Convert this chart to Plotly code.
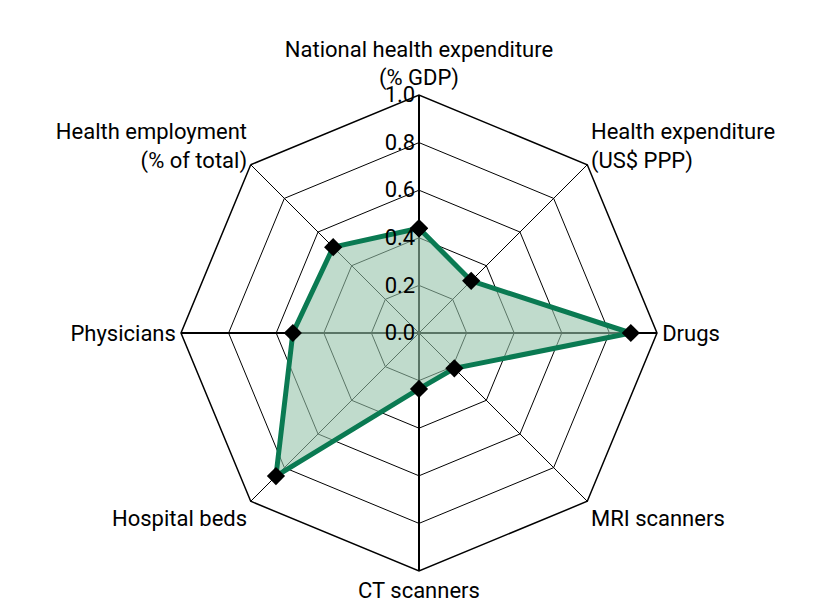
import plotly.graph_objects as go

# Categories clockwise from the top
categories = [
    "National health expenditure<br>(% GDP)",
    "Health expenditure<br>(US$ PPP)",
    "Drugs",
    "MRI scanners",
    "CT scanners",
    "Hospital beds",
    "Physicians",
    "Health employment<br>(% of total)",
]
values = [0.44, 0.31, 0.89, 0.21, 0.235, 0.85, 0.53, 0.51]
radial_ticks = [0.0, 0.2, 0.4, 0.6, 0.8, 1.0]

FILL = "rgba(150,195,170,0.6)"
LINE = "#0a7a52"
FONT = "Roboto, sans-serif"

fig = go.Figure()

# thick main axes (vertical + horizontal)
fig.add_trace(go.Scatterpolar(
    r=[1, 0, 1], theta=[categories[0], categories[0], categories[4]],
    mode="lines", line=dict(color="black", width=2), hoverinfo="skip", showlegend=False,
))
fig.add_trace(go.Scatterpolar(
    r=[1, 0, 1], theta=[categories[2], categories[2], categories[6]],
    mode="lines", line=dict(color="black", width=2), hoverinfo="skip", showlegend=False,
))

fig.add_trace(go.Scatterpolar(
    r=values + [values[0]],
    theta=categories + [categories[0]],
    mode="lines+markers",
    fill="toself",
    fillcolor=FILL,
    line=dict(color=LINE, width=5),
    marker=dict(symbol="diamond", size=14, color="black"),
    showlegend=False,
))

fig.update_layout(
    width=823, height=606,
    paper_bgcolor="white",
    margin=dict(l=0, r=0, t=0, b=0),
    font=dict(family=FONT, size=22, color="black"),
    polar=dict(
        domain=dict(x=[173 / 823, 649 / 823], y=[43 / 606, 519 / 606]),
        bgcolor="white",
        gridshape="linear",
        angularaxis=dict(
            direction="clockwise", rotation=90,
            categoryorder="array", categoryarray=categories,
            showline=True, linecolor="black", linewidth=1.5,
            gridcolor="black", gridwidth=1.2,
            ticks="", tickfont=dict(size=22, family=FONT),
        ),
        radialaxis=dict(
            range=[0, 1], tickvals=radial_ticks,
            ticktext=[f"{t:.1f}" for t in radial_ticks],
            angle=90, tickangle=90, side="counterclockwise",
            showline=False, gridcolor="black", gridwidth=1.2,
            ticks="", tickfont=dict(size=22, family=FONT),
        ),
    ),
)

fig.write_html("out.html")
